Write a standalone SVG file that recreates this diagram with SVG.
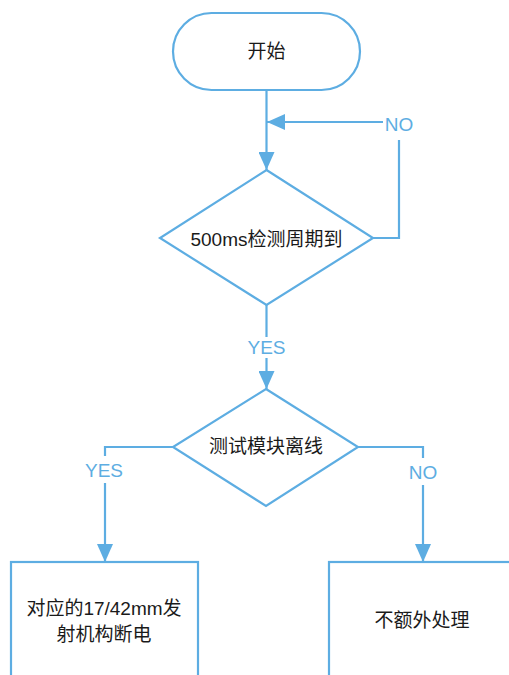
<svg xmlns="http://www.w3.org/2000/svg" width="509" height="675" viewBox="0 0 509 675">
<defs>
<style>
.shape{fill:#ffffff;stroke:#5dade2;stroke-width:2.2}
.line{fill:none;stroke:#5dade2;stroke-width:2.2}
.txt{font-family:"Liberation Sans","Noto Sans CJK SC",sans-serif;font-size:19px;fill:#1a1a1a;text-anchor:middle;dominant-baseline:central}
.lbl{font-family:"Liberation Sans","Noto Sans CJK SC",sans-serif;font-size:19px;fill:#5dade2;text-anchor:middle;dominant-baseline:central}
</style>
<marker id="arr" markerWidth="20" markerHeight="16" viewBox="0 0 20 16" refX="18" refY="8" orient="auto" markerUnits="userSpaceOnUse">
<path d="M0,0 L18,8 L0,16 Z" fill="#5dade2"/>
</marker>
</defs>
<rect width="509" height="675" fill="#ffffff"/>
<g id="connectors">
<path class="line" d="M266.5,91 L266.5,170" marker-end="url(#arr)"/>
<path class="line" d="M373,238 L399,238 L399,140"/>
<path class="line" d="M383,122 L267,122" marker-end="url(#arr)"/>
<path class="line" d="M266.5,305 L266.5,337"/>
<path class="line" d="M266.5,358 L266.5,389" marker-end="url(#arr)"/>
<path class="line" d="M173,447 L105,447 L105,456"/>
<path class="line" d="M105,483 L105,562" marker-end="url(#arr)"/>
<path class="line" d="M358,447 L423,447 L423,458"/>
<path class="line" d="M423,485 L423,562" marker-end="url(#arr)"/>
<text class="lbl" x="399" y="124">NO</text>
<text class="lbl" x="266.5" y="347">YES</text>
<text class="lbl" x="104" y="470">YES</text>
<text class="lbl" x="423" y="472">NO</text>
</g>
<g id="start">
<rect class="shape" x="173" y="13" width="187" height="77" rx="38.5" ry="38.5"/>
<text class="txt" x="266.5" y="51">开始</text>
</g>
<g id="check500">
<path class="shape" d="M266.5,170 L373,238 L266.5,305 L160,238 Z"/>
<text class="txt" x="266.5" y="239">500ms检测周期到</text>
</g>
<g id="offline">
<path class="shape" d="M266,389 L358,447 L266,506 L173,447 Z"/>
<text class="txt" x="266" y="446">测试模块离线</text>
</g>
<g id="poweroff">
<rect class="shape" x="11" y="562" width="187" height="130"/>
<text class="txt" x="104" y="608">对应的17/42mm发</text>
<text class="txt" x="104" y="634">射机构断电</text>
</g>
<g id="noop">
<rect class="shape" x="329" y="562" width="200" height="130"/>
<text class="txt" x="422" y="620">不额外处理</text>
</g>
</svg>
